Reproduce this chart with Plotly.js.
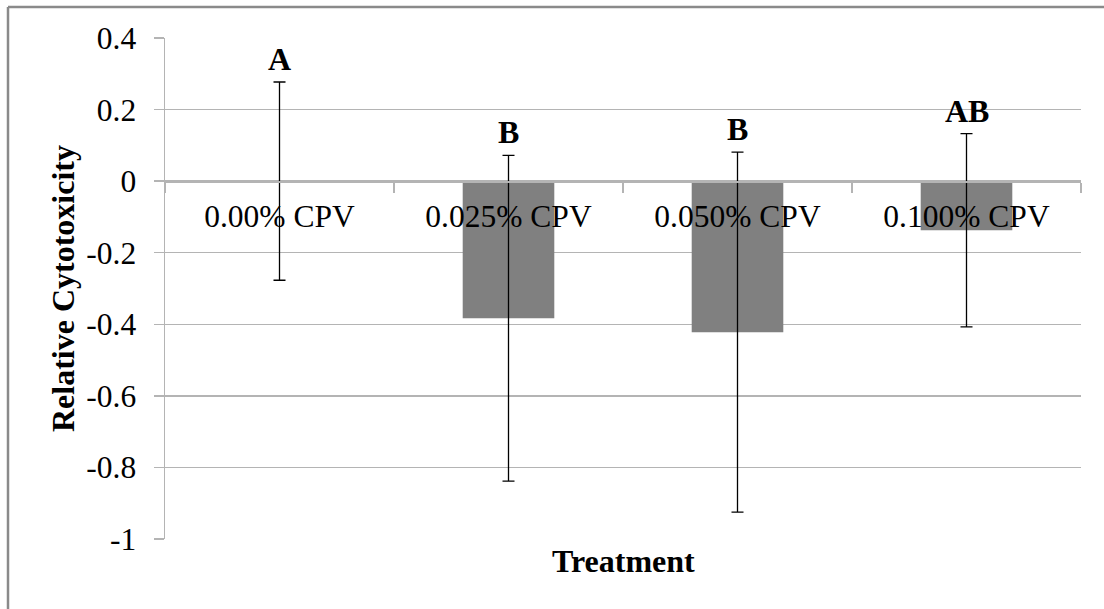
<!DOCTYPE html>
<html>
<head>
<meta charset="utf-8">
<script src="https://cdn.plot.ly/plotly-3.0.1.min.js"></script>
<style>
  html, body { margin: 0; padding: 0; background: #ffffff; }
  #chart { width: 1104px; height: 609px; }
</style>
</head>
<body>
<div id="chart"></div>
<script>
// Treatment groups and their mean relative cytotoxicity with error bar half-widths
const treatments = ["0.00% CPV", "0.025% CPV", "0.050% CPV", "0.100% CPV"];
const meanValues = [0.0, -0.383, -0.422, -0.137];
const errorValues = [0.277, 0.455, 0.503, 0.27];
// Significance grouping letters shown above each error bar
const groupLetters = ["A", "B", "B", "AB"];
// Value axis ticks (plain hyphen minus signs)
const yTickValues = [0.4, 0.2, 0, -0.2, -0.4, -0.6, -0.8, -1];
const yTickLabels = ["0.4", "0.2", "0", "-0.2", "-0.4", "-0.6", "-0.8", "-1"];

const W = 1104, H = 609;
const M = { l: 165, r: 23, t: 38, b: 70 };
const plotW = W - M.l - M.r;
const plotH = H - M.t - M.b;
const px = x => (x - M.l) / plotW;
const py = y => (H - M.b - y) / plotH;

const serif = "Liberation Serif, Times New Roman, serif";
const gridColor = "#b4b4b4";
const labelSize = 31.5;
const titleSize = 32;

const bars = {
  type: "bar",
  x: treatments,
  y: meanValues,
  marker: { color: "#808080", line: { width: 0 } },
  error_y: {
    type: "data",
    array: errorValues,
    visible: true,
    color: "#000000",
    thickness: 1.3,
    width: 6
  },
  hoverinfo: "skip"
};

const letterNotes = treatments.map((t, i) => ({
  x: t,
  y: meanValues[i] + errorValues[i],
  xref: "x",
  yref: "y",
  text: "<b>" + groupLetters[i] + "</b>",
  showarrow: false,
  yanchor: "bottom",
  yshift: 3,
  font: { family: serif, size: titleSize, color: "#000000" }
}));

const yMin = -1, yMax = 0.4;

const layout = {
  width: W,
  height: H,
  margin: M,
  paper_bgcolor: "#ffffff",
  plot_bgcolor: "#ffffff",
  showlegend: false,
  bargap: 0.6,
  font: { family: serif, size: labelSize, color: "#000000" },
  xaxis: {
    type: "category",
    anchor: "free",
    position: (0 - yMin) / (yMax - yMin),
    showgrid: false,
    showline: true,
    linecolor: gridColor,
    linewidth: 1.5,
    ticks: "outside",
    tickson: "boundaries",
    ticklen: 10,
    tickcolor: gridColor,
    tickwidth: 1.5,
    ticklabelstandoff: 7,
    tickfont: { family: serif, size: labelSize, color: "#000000" },
    zeroline: false,
    fixedrange: true
  },
  yaxis: {
    range: [yMin, yMax],
    tickmode: "array",
    tickvals: yTickValues,
    ticktext: yTickLabels,
    showgrid: true,
    gridcolor: gridColor,
    gridwidth: 1.5,
    showline: true,
    linecolor: gridColor,
    linewidth: 1.5,
    ticks: "outside",
    ticklen: 10,
    tickcolor: gridColor,
    tickwidth: 1.5,
    ticklabelstandoff: 11,
    tickfont: { family: serif, size: labelSize, color: "#000000" },
    zeroline: false,
    title: {
      text: "<b>Relative Cytotoxicity</b>",
      font: { family: serif, size: titleSize, color: "#000000" },
      standoff: 2
    },
    fixedrange: true
  },
  annotations: letterNotes.concat([{
    x: 0.5,
    y: py(561),
    xref: "paper",
    yref: "paper",
    text: "<b>Treatment</b>",
    showarrow: false,
    xanchor: "center",
    yanchor: "middle",
    font: { family: serif, size: titleSize, color: "#000000" }
  }]),
  shapes: [
    // outer frame: top and left edges
    { type: "line", xref: "paper", yref: "paper", x0: px(8), x1: px(W + 2), y0: py(7), y1: py(7),
      line: { color: "#8a8a8a", width: 2.5 } },
    { type: "line", xref: "paper", yref: "paper", x0: px(8), x1: px(8), y0: py(7), y1: py(H + 2),
      line: { color: "#8a8a8a", width: 2.5 } }
  ]
};

Plotly.newPlot("chart", [bars], layout, { displayModeBar: false, staticPlot: true });
</script>
</body>
</html>
